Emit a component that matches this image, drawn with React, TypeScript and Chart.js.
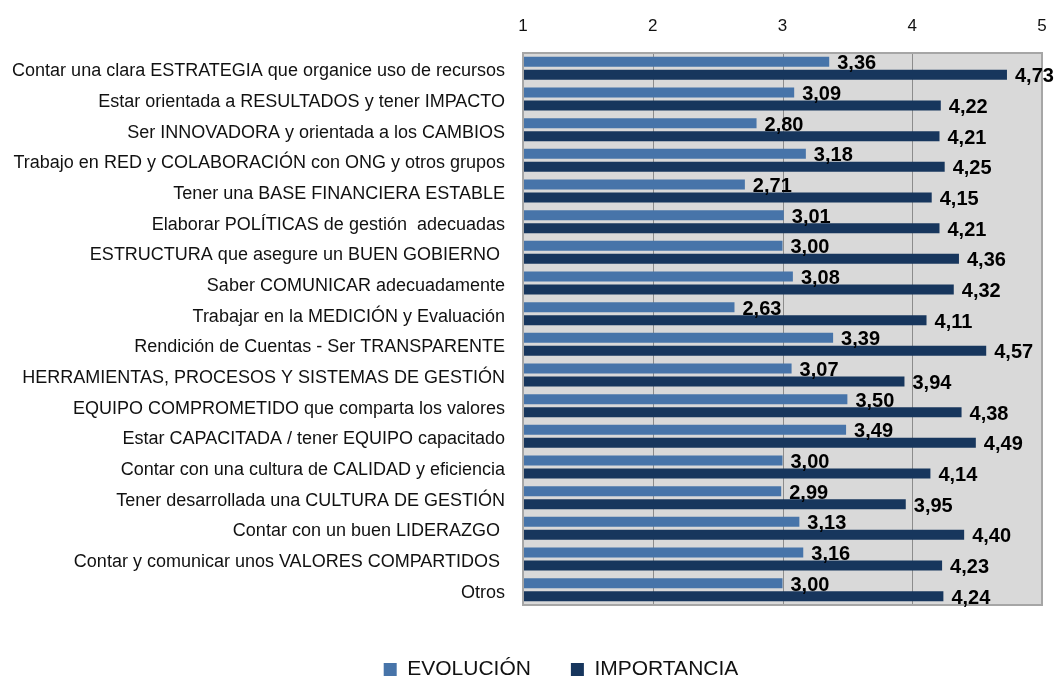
import React, { useEffect, useRef } from "react";
import { Chart, registerables } from "chart.js";

Chart.register(...registerables);

const categories = [
  "Contar una clara ESTRATEGIA que organice uso de recursos",
  "Estar orientada a RESULTADOS y tener IMPACTO",
  "Ser INNOVADORA y orientada a los CAMBIOS",
  "Trabajo en RED y COLABORACIÓN con ONG y otros grupos",
  "Tener una BASE FINANCIERA ESTABLE",
  "Elaborar POLÍTICAS de gestión  adecuadas",
  "ESTRUCTURA que asegure un BUEN GOBIERNO ",
  "Saber COMUNICAR adecuadamente",
  "Trabajar en la MEDICIÓN y Evaluación",
  "Rendición de Cuentas - Ser TRANSPARENTE",
  "HERRAMIENTAS, PROCESOS Y SISTEMAS DE GESTIÓN",
  "EQUIPO COMPROMETIDO que comparta los valores",
  "Estar CAPACITADA / tener EQUIPO capacitado",
  "Contar con una cultura de CALIDAD y eficiencia",
  "Tener desarrollada una CULTURA DE GESTIÓN",
  "Contar con un buen LIDERAZGO ",
  "Contar y comunicar unos VALORES COMPARTIDOS ",
  "Otros",
];

const evolucion = [3.36, 3.09, 2.8, 3.18, 2.71, 3.01, 3.0, 3.08, 2.63, 3.39, 3.07, 3.5, 3.49, 3.0, 2.99, 3.13, 3.16, 3.0];
const importancia = [4.73, 4.22, 4.21, 4.25, 4.15, 4.21, 4.36, 4.32, 4.11, 4.57, 3.94, 4.38, 4.49, 4.14, 3.95, 4.4, 4.23, 4.24];

const xTicks = [1, 2, 3, 4, 5];

const FONT = "'Liberation Sans', Arial, sans-serif";

const plotPlugin = {
  id: "plotDecor",
  afterLayout(chart: any) {
    const lg = chart.legend;
    if (lg) {
      lg.left += 40;
      lg.right += 40;
      lg.top += 14;
      lg.bottom += 14;
    }
  },
  beforeDatasetsDraw(chart: any) {
    const { ctx, chartArea: a } = chart;
    ctx.save();
    ctx.fillStyle = "#d9d9d9";
    ctx.fillRect(a.left, a.top, a.right - a.left, a.bottom - a.top);
    const xs = chart.scales.x;
    ctx.strokeStyle = "#8c8c8c";
    ctx.lineWidth = 1;
    for (const t of xTicks) {
      if (t === 1 || t === 5) continue;
      const px = Math.round(xs.getPixelForValue(t)) + 0.5;
      ctx.beginPath();
      ctx.moveTo(px, a.top);
      ctx.lineTo(px, a.bottom);
      ctx.stroke();
    }
    ctx.restore();
  },
  afterDatasetsDraw(chart: any) {
    const { ctx, chartArea: a } = chart;
    ctx.save();
    ctx.strokeStyle = "#a6a6a6";
    ctx.lineWidth = 2;
    ctx.strokeRect(a.left, a.top, a.right - a.left, a.bottom - a.top);
    ctx.fillStyle = "#000";
    ctx.font = "bold 20px " + FONT;
    ctx.textAlign = "left";
    ctx.textBaseline = "middle";
    chart.data.datasets.forEach((ds: any, di: number) => {
      const meta = chart.getDatasetMeta(di);
      meta.data.forEach((bar: any, i: number) => {
        const v = ds.data[i] as number;
        ctx.fillText(v.toFixed(2).replace(".", ","), bar.x + 8, bar.y + 2);
      });
    });
    ctx.restore();
  },
};

export default function App() {
  const ref = useRef<HTMLCanvasElement>(null);
  useEffect(() => {
    if (!ref.current) return;
    const chart = new Chart(ref.current, {
      type: "bar",
      data: {
        labels: categories,
        datasets: [
          {
            label: "EVOLUCIÓN",
            data: evolucion,
            backgroundColor: "#4774a9",
            categoryPercentage: 0.85,
            barPercentage: 0.77,
          },
          {
            label: "IMPORTANCIA",
            data: importancia,
            backgroundColor: "#17365d",
            categoryPercentage: 0.85,
            barPercentage: 0.77,
          },
        ],
      },
      options: {
        indexAxis: "y",
        responsive: false,
        animation: false,
        layout: { padding: { left: 0, right: 17, top: 0, bottom: 3 } },
        scales: {
          x: {
            position: "top",
            min: 1,
            max: 5,
            afterFit: (s: any) => {
              s.height = 53;
              s.paddingRight = 0;
              s.paddingLeft = 0;
            },
            afterBuildTicks: (s: any) => {
              s.ticks = xTicks.map((v) => ({ value: v }));
            },
            grid: { display: false, drawTicks: false },
            border: { display: false },
            ticks: {
              color: "#111",
              font: { family: FONT, size: 17 },
              padding: 16,
            },
          },
          y: {
            afterFit: (s: any) => {
              s.width = 523;
            },
            grid: { display: false, drawTicks: false },
            border: { display: false },
            ticks: {
              color: "#111",
              font: { family: FONT, size: 18 },
              padding: 18,
              labelOffset: 3,
              autoSkip: false,
            },
          },
        },
        plugins: {
          legend: {
            position: "bottom",
            labels: {
              boxWidth: 13,
              boxHeight: 13,
              color: "#111",
              font: { family: FONT, size: 21 },
              padding: 40,
            },
          },
          tooltip: { enabled: false },
        },
      },
      plugins: [plotPlugin],
    });
    return () => chart.destroy();
  }, []);
  return (
    <div style={{ position: "fixed", left: 0, top: 0, width: 1059, height: 679, background: "#fff" }}>
      <canvas ref={ref} width={1059} height={679} />
    </div>
  );
}
